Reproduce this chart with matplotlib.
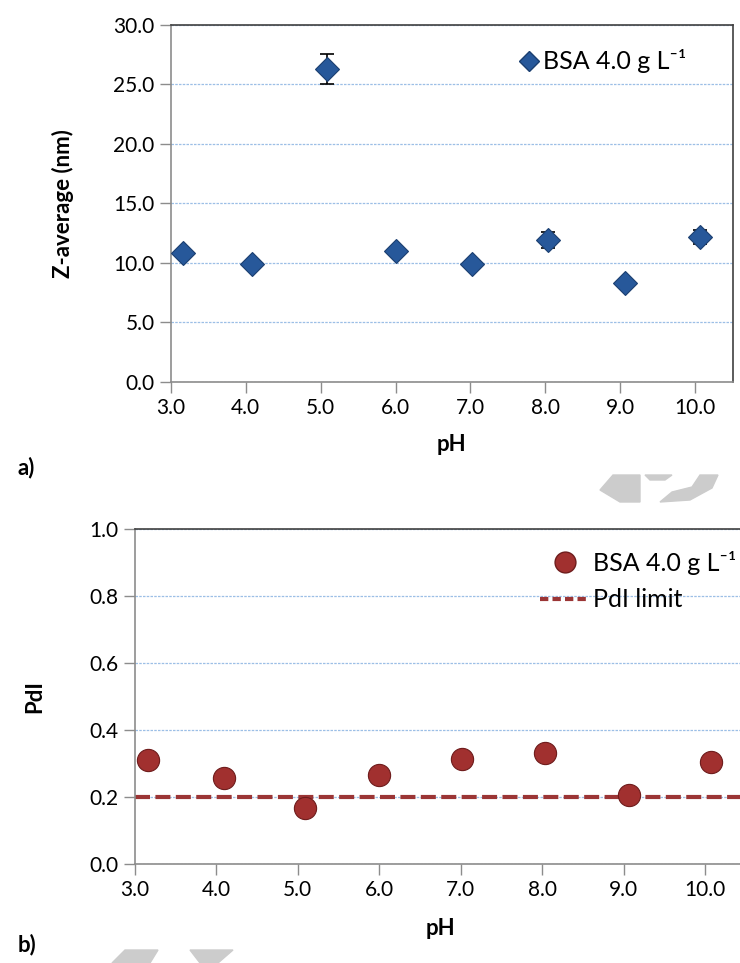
import numpy as np
import matplotlib
matplotlib.use('Agg')
import matplotlib.pyplot as plt
from matplotlib.lines import Line2D
from matplotlib.patches import Polygon

plt.rcParams['font.family'] = ['Lato', 'DejaVu Sans']

# ---- data ----
ph = [3.16, 4.09, 5.09, 6.0, 7.02, 8.04, 9.06, 10.07]
z_avg = [10.8, 9.9, 26.3, 11.0, 9.9, 11.9, 8.3, 12.2]
z_err = [0.3, 0.2, 1.3, 0.3, 0.2, 0.65, 0.2, 0.6]
pdi = [0.31, 0.257, 0.168, 0.265, 0.313, 0.332, 0.206, 0.303]
pdi_limit = 0.2

x_ticks = [3.0, 4.0, 5.0, 6.0, 7.0, 8.0, 9.0, 10.0]
z_ticks = [0.0, 5.0, 10.0, 15.0, 20.0, 25.0, 30.0]
pdi_ticks = [0.0, 0.2, 0.4, 0.6, 0.8, 1.0]
legend_label = 'BSA 4.0 g L\u207b\u00b9'

W, H = 740, 963
fig = plt.figure(figsize=(W / 100, H / 100), dpi=100)

def px(x0, y0, x1, y1):
    return [x0 / W, 1 - y1 / H, (x1 - x0) / W, (y1 - y0) / H]

ax1 = fig.add_axes(px(170.7, 25, 732.7, 381.7))
ax2 = fig.add_axes(px(134.7, 529, 745.9, 864))

grid_c = '#9cbfe6'
axis_c = '#8c8c8c'
frame_c = '#404040'

def style(ax, yticks, fmt):
    ax.set_xlim(3.0, 10.5)
    ax.set_ylim(yticks[0], yticks[-1])
    ax.set_xticks(x_ticks)
    ax.set_xticklabels([f'{t:.1f}' for t in x_ticks])
    ax.set_yticks(yticks)
    ax.set_yticklabels([fmt.format(t) for t in yticks])
    ax.tick_params(labelsize=15, colors=axis_c, labelcolor='black', length=8, width=1)
    ax.spines['left'].set_color(axis_c)
    ax.spines['bottom'].set_color(axis_c)
    ax.spines['top'].set_color(frame_c)
    ax.spines['right'].set_color(frame_c)
    for s in ax.spines.values():
        s.set_linewidth(1.2)
    ax.grid(axis='y', color=grid_c, linestyle=(0, (2, 1)), linewidth=0.9)
    ax.set_axisbelow(True)

# ---- a) Z-average ----
style(ax1, z_ticks, '{:.1f}')
ax1.errorbar(ph, z_avg, yerr=z_err, fmt='none', ecolor='black', elinewidth=1.2,
             capsize=5, capthick=1.2, zorder=2)
ax1.plot(ph, z_avg, linestyle='none', marker='D', ms=12.5, color='#27589a',
         mec='#1b3f70', mew=0.8, zorder=3)
ax1.set_xlabel('pH', fontsize=16, fontweight='bold')
ax1.set_ylabel('Z-average (nm)', fontsize=16, fontweight='bold')
ax1.xaxis.set_label_coords(0.5, -0.148)
ax1.yaxis.set_label_coords(-0.172, 0.5)
h1 = Line2D([], [], linestyle='none', marker='D', ms=10, color='#27589a', mec='#1b3f70')
ax1.legend([h1], [legend_label], loc='upper right', bbox_to_anchor=(0.935, 0.96),
           frameon=False, fontsize=18, handletextpad=0.05, handlelength=1.0,
           borderaxespad=0)

# ---- b) PdI ----
style(ax2, pdi_ticks, '{:.1f}')
ax2.axhline(pdi_limit, color='#9b3535', linewidth=3, dashes=(3.6, 1.3), zorder=2)
ax2.plot(ph, pdi, linestyle='none', marker='o', ms=16, color='#a1302f',
         mec='#6e1c1c', mew=0.8, zorder=3)
ax2.set_xlabel('pH', fontsize=16, fontweight='bold')
ax2.set_ylabel('PdI', fontsize=16, fontweight='bold')
ax2.xaxis.set_label_coords(0.5, -0.16)
ax2.yaxis.set_label_coords(-0.147, 0.5)
h2 = Line2D([], [], linestyle='none', marker='o', ms=15, color='#a1302f', mec='#6e1c1c')
h3 = Line2D([], [], color='#9b3535', linewidth=3, dashes=(2.0, 1.0))
ax2.legend([h2, h3], [legend_label, 'PdI limit'], loc='upper right',
           bbox_to_anchor=(1.0, 0.965), frameon=False, fontsize=18,
           handletextpad=0.1, handlelength=2.0, labelspacing=0.55, borderaxespad=0)

# panel letters
fig.text(18 / W, 1 - 468 / H, 'a)', fontsize=16, fontweight='bold', va='center')
fig.text(18 / W, 1 - 945 / H, 'b)', fontsize=16, fontweight='bold', va='center')

# light grey watermark fragments
wm = '#cccccc'
for pts in [
    [(600, 490), (613, 475), (640, 475), (640, 502), (620, 502)],
    [(645, 475), (672, 475), (665, 480), (650, 480)],
    [(660, 502), (690, 500), (712, 488), (718, 475), (700, 475), (692, 487), (672, 492)],
    [(112, 963), (125, 950), (158, 950), (150, 963)],
    [(190, 950), (233, 950), (218, 963), (200, 963)],
]:
    fig.patches.append(Polygon([(x / W, 1 - y / H) for x, y in pts], closed=True,
                               transform=fig.transFigure, color=wm, zorder=0))

fig.savefig('out.png', dpi=100)
